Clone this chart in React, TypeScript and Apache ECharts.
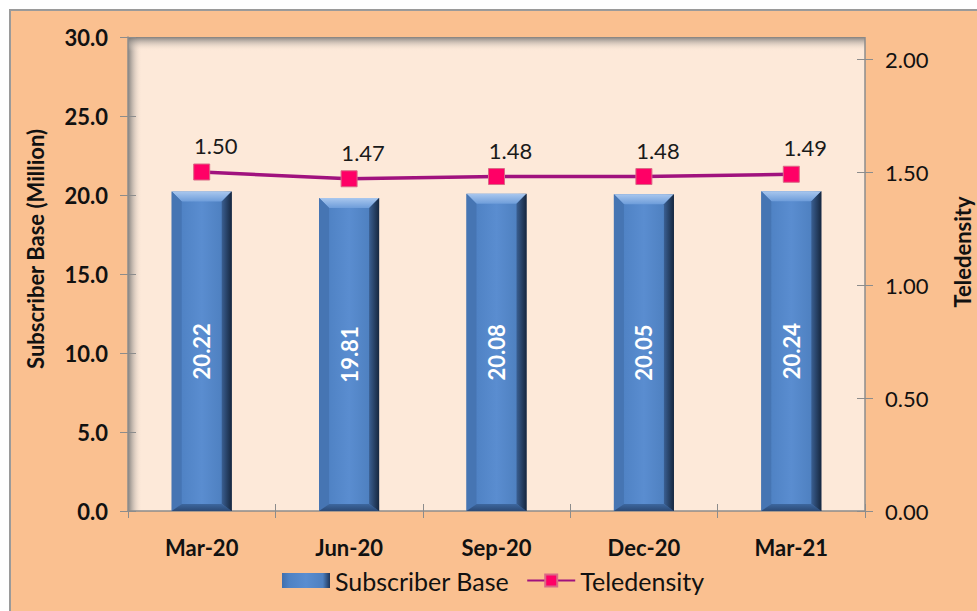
import React, { useEffect, useRef } from "react";
import * as echarts from "echarts";

const categories = ["Mar-20", "Jun-20", "Sep-20", "Dec-20", "Mar-21"];
const subscriberBase = [20.22, 19.81, 20.08, 20.05, 20.24];
const teledensity = [1.5, 1.47, 1.48, 1.48, 1.49];
const subscriberTicks = [0, 5, 10, 15, 20, 25, 30];
const teledensityTicks = [0, 0.5, 1, 1.5, 2];

const FONT = "Lato, 'Open Sans', sans-serif";
const GRID = { left: 128, right: 112, top: 37, bottom: 100 };
const PLOT = { x: 128, y: 37, w: 737, h: 474 };

export default function App() {
  const ref = useRef<HTMLDivElement>(null);
  useEffect(() => {
    if (!ref.current) return;
    const chart = echarts.init(ref.current, undefined, { renderer: "svg" });
    const sMin = subscriberTicks[0];
    const sMax = subscriberTicks[subscriberTicks.length - 1];
    const sInt = subscriberTicks[1] - subscriberTicks[0];
    const tMin = teledensityTicks[0];
    const tMax = teledensityTicks[teledensityTicks.length - 1];
    const tInt = teledensityTicks[1] - teledensityTicks[0];
    const axisGray = "#8c8c8c";
    const barW = 60;

    const option: any = {
      animation: false,
      textStyle: { fontFamily: FONT },
      grid: [
        { ...GRID, containLabel: false },
        { ...GRID, top: 59, containLabel: false },
      ],
      graphic: [
        {
          type: "rect",
          z: -10,
          shape: { x: PLOT.x, y: PLOT.y, width: PLOT.w, height: PLOT.h },
          style: { fill: "#FDE9D9" },
        },
        {
          type: "rect",
          z: -9,
          shape: { x: PLOT.x, y: PLOT.y, width: 14, height: PLOT.h },
          style: {
            fill: new echarts.graphic.LinearGradient(0, 0, 1, 0, [
              { offset: 0, color: "rgba(110,110,110,0.85)" },
              { offset: 1, color: "rgba(253,233,217,0)" },
            ]),
          },
        },
        {
          type: "rect",
          z: -9,
          shape: { x: PLOT.x, y: PLOT.y, width: PLOT.w, height: 14 },
          style: {
            fill: new echarts.graphic.LinearGradient(0, 0, 0, 1, [
              { offset: 0, color: "rgba(110,110,110,0.85)" },
              { offset: 1, color: "rgba(253,233,217,0)" },
            ]),
          },
        },
        {
          type: "line",
          z: -8,
          shape: { x1: PLOT.x + PLOT.w, y1: PLOT.y, x2: PLOT.x + PLOT.w, y2: PLOT.y + PLOT.h },
          style: { stroke: axisGray, lineWidth: 1.5 },
        },
        {
          type: "text",
          x: 35,
          y: 249,
          rotation: Math.PI / 2,
          style: {
            text: "Subscriber Base (Million)",
            fontFamily: FONT,
            fontSize: 22,
            fontWeight: "bold",
            fill: "#111",
            align: "center",
            verticalAlign: "middle",
          },
        },
        {
          type: "text",
          x: 962,
          y: 252,
          rotation: Math.PI / 2,
          style: {
            text: "Teledensity",
            fontFamily: FONT,
            fontSize: 22,
            fontWeight: "bold",
            fill: "#111",
            align: "center",
            verticalAlign: "middle",
          },
        },
      ],
      legend: {
        left: 277,
        top: 563,
        itemWidth: 48,
        itemHeight: 15,
        itemGap: 17,
        textStyle: { fontFamily: FONT, fontSize: 25, color: "#111" },
        data: [
          { name: "Subscriber Base", icon: "rect" },
          { name: "Teledensity" },
        ],
      },
      xAxis: [
        {
          type: "category",
          gridIndex: 0,
          data: categories,
          boundaryGap: true,
          axisLine: { lineStyle: { color: axisGray, width: 1.5 } },
          axisTick: { show: true, length: 7, lineStyle: { color: axisGray } },
          axisLabel: {
            margin: 25,
            fontFamily: FONT,
            fontSize: 22,
            fontWeight: "bold",
            color: "#111",
          },
        },
        {
          type: "category",
          gridIndex: 1,
          data: categories,
          boundaryGap: true,
          show: false,
        },
        {
          type: "category",
          gridIndex: 0,
          data: categories,
          position: "bottom",
          boundaryGap: true,
          axisLine: { show: false },
          axisTick: { show: true, inside: true, length: 7, lineStyle: { color: axisGray } },
          axisLabel: { show: false },
        },
      ],
      yAxis: [
        {
          type: "value",
          gridIndex: 0,
          min: sMin,
          max: sMax,
          interval: sInt,
          axisLine: { show: true, lineStyle: { color: axisGray, width: 1.5 } },
          axisTick: { show: true, length: 8, lineStyle: { color: axisGray } },
          splitLine: { show: false },
          axisLabel: {
            margin: 20,
            fontFamily: FONT,
            fontSize: 22,
            fontWeight: "bold",
            color: "#111",
            formatter: (v: number) => v.toFixed(1),
          },
        },
        {
          type: "value",
          gridIndex: 1,
          position: "right",
          min: tMin,
          max: tMax,
          interval: tInt,
          axisLine: { show: false },
          axisTick: { show: true, length: 8, lineStyle: { color: axisGray } },
          splitLine: { show: false },
          axisLabel: {
            margin: 20,
            fontFamily: FONT,
            fontSize: 22,
            color: "#111",
            formatter: (v: number) => v.toFixed(2),
          },
        },
        {
          type: "value",
          gridIndex: 0,
          position: "left",
          min: sMin,
          max: sMax,
          interval: sInt,
          axisLine: { show: false },
          axisTick: { show: true, inside: true, length: 8, lineStyle: { color: axisGray } },
          splitLine: { show: false },
          axisLabel: { show: false },
        },
        {
          type: "value",
          gridIndex: 1,
          position: "right",
          min: tMin,
          max: tMax,
          interval: tInt,
          axisLine: { show: false },
          axisTick: { show: true, inside: true, length: 8, lineStyle: { color: axisGray } },
          splitLine: { show: false },
          axisLabel: { show: false },
        },
      ],
      series: [
        {
          name: "Subscriber Base",
          type: "bar",
          xAxisIndex: 0,
          yAxisIndex: 0,
          barWidth: barW,
          data: subscriberBase,
          itemStyle: {
            color: new echarts.graphic.LinearGradient(0, 0, 1, 0, [
              { offset: 0, color: "#3F6FAE" },
              { offset: 0.15, color: "#4F82C4" },
              { offset: 0.5, color: "#5A8DD0" },
              { offset: 0.85, color: "#4E80C0" },
              { offset: 1, color: "#1E3558" },
            ]),
          },
          label: {
            show: true,
            position: "inside",
            rotate: 90,
            fontFamily: FONT,
            fontSize: 22,
            fontWeight: "bold",
            color: "#fff",
            formatter: (p: any) => p.value.toFixed(2),
          },
          z: 2,
        },
        {
          name: "bevel",
          type: "custom",
          xAxisIndex: 0,
          yAxisIndex: 0,
          silent: true,
          z: 3,
          data: subscriberBase.map((v, i) => [i, v]),
          renderItem: (params: any, api: any) => {
            const i = api.value(0);
            const v = api.value(1);
            const top = api.coord([i, v]);
            const bot = api.coord([i, 0]);
            const x0 = top[0] - barW / 2;
            const x1 = top[0] + barW / 2;
            const y0 = top[1];
            const y1 = bot[1];
            const b = 10;
            const bb = 7;
            return {
              type: "group",
              children: [
                {
                  type: "polygon",
                  shape: { points: [[x0, y0], [x1, y0], [x1 - b, y0 + b], [x0 + b, y0 + b]] },
                  style: {
                    fill: new echarts.graphic.LinearGradient(0, 0, 0, 1, [
                      { offset: 0, color: "#A9C7EE" },
                      { offset: 1, color: "#6E9DDA" },
                    ]),
                  },
                },
                {
                  type: "polygon",
                  shape: { points: [[x1, y0], [x1, y1], [x1 - b, y1 - bb], [x1 - b, y0 + b]] },
                  style: {
                    fill: new echarts.graphic.LinearGradient(0, 0, 1, 0, [
                      { offset: 0, color: "#3A5F92" },
                      { offset: 1, color: "#16273F" },
                    ]),
                  },
                },
                {
                  type: "polygon",
                  shape: { points: [[x0, y0], [x0 + b, y0 + b], [x0 + b, y1 - bb], [x0, y1]] },
                  style: { fill: "#4675B3" },
                },
                {
                  type: "polygon",
                  shape: { points: [[x0, y1], [x0 + b, y1 - bb], [x1 - b, y1 - bb], [x1, y1]] },
                  style: {
                    fill: new echarts.graphic.LinearGradient(0, 0, 0, 1, [
                      { offset: 0, color: "#3D679F" },
                      { offset: 1, color: "#2B4A76" },
                    ]),
                  },
                },
              ],
            };
          },
        },
        {
          name: "Teledensity",
          type: "line",
          xAxisIndex: 1,
          yAxisIndex: 1,
          data: teledensity,
          symbol: "rect",
          symbolSize: 16,
          lineStyle: { color: "#A0127E", width: 3.5 },
          itemStyle: { color: "#FF0066", borderColor: "#D96A86", borderWidth: 1 },
          label: {
            show: true,
            position: "top",
            distance: 7,
            offset: [14, 0],
            fontFamily: FONT,
            fontSize: 22,
            color: "#1a1a1a",
            formatter: (p: any) => p.value.toFixed(2),
          },
          z: 5,
        },
      ],
    };
    chart.setOption(option);
    return () => chart.dispose();
  }, []);

  return (
    <div style={{ position: "absolute", left: 0, top: 0, width: 977, height: 611, background: "#fff", overflow: "hidden" }}>
      <div
        style={{
          position: "absolute",
          left: 9,
          top: 9,
          width: 1200,
          height: 1200,
          background: "#FAC090",
          borderLeft: "2px solid #9a9a9a",
          borderTop: "2px solid #9a9a9a",
        }}
      />
      <div ref={ref} style={{ position: "absolute", left: 0, top: 0, width: 977, height: 611 }} />
    </div>
  );
}
